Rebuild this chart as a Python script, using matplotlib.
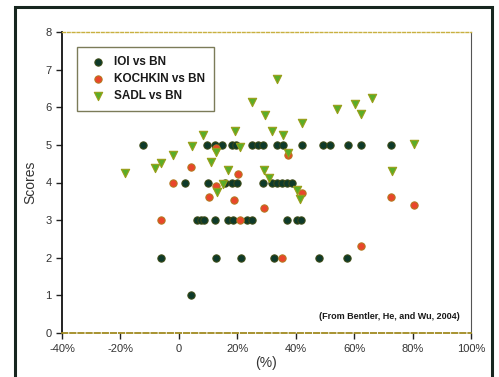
import matplotlib.pyplot as plt
from matplotlib.patches import Rectangle
from matplotlib.ticker import FixedLocator, FixedFormatter

plt.rcParams['font.family'] = ['Liberation Sans', 'DejaVu Sans']

# IOI vs BN
ioi_x = [-12.3, 9.6, 12.3, 14.7, 18.2, 19.5, 25.0, 27.0, 28.8, 33.6, 35.6, 42.0, 49.3, 51.7, 57.9, 62.3, 72.6,
         2.1, 9.9, 15.8, 18.2, 19.9, 28.8, 31.8, 33.6, 35.3, 37.0, 38.7,
         6.2, 7.5, 8.6, 12.3, 16.8, 18.5, 23.3, 25.0, 37.0, 40.4, 41.8,
         -6.2, 12.7, 21.2, 32.5, 47.9, 57.5,
         4.1]
ioi_y = [5] * 17 + [4] * 11 + [3] * 11 + [2] * 6 + [1]

# KOCHKIN vs BN
koch_x = [-6.2, -2.1, 4.1, 10.3, 12.7, 12.7, 18.8, 20.2, 20.9, 29.1, 35.3, 37.3, 42.1, 62.3, 72.6, 80.5]
koch_y = [3.0, 4.0, 4.4, 3.62, 3.9, 4.93, 3.53, 4.23, 3.0, 3.32, 2.0, 4.72, 3.72, 2.31, 3.62, 3.40]

# SADL vs BN
sadl_x = [-18.5, -8.2, -6.0, -2.0, 4.5, 8.2, 11.0, 12.7, 13.0, 15.0, 16.8, 19.2, 20.9, 25.2, 29.3,
          29.5, 31.0, 31.8, 33.6, 35.6, 37.3, 40.4, 41.4, 42.1, 54.0, 60.3, 62.3, 66.1, 72.9, 80.5]
sadl_y = [4.25, 4.39, 4.53, 4.73, 4.98, 5.25, 4.55, 4.82, 3.75, 3.97, 4.32, 5.36, 4.95, 6.15, 4.32,
          5.8, 4.12, 5.38, 6.75, 5.27, 4.78, 3.8, 3.57, 5.58, 5.96, 6.08, 5.82, 6.25, 4.31, 5.03]

x_ticks = [-40, -20, 0, 20, 40, 60, 80, 100]
x_labels = ['-40%', '-20%', '0', '20%', '40%', '60%', '80%', '100%']
y_ticks = [0, 1, 2, 3, 4, 5, 6, 7, 8]

fig = plt.figure(figsize=(4.99, 3.77), dpi=100)
ax = fig.add_axes([62 / 499, 1 - 333 / 377, 409 / 499, 301 / 377])

ax.scatter(ioi_x, ioi_y, s=28, marker='o', color='#0e3a2a', edgecolors='#3d4a14', linewidths=0.7,
           label='IOI vs BN', zorder=3)
ax.scatter(koch_x, koch_y, s=28, marker='o', color='#e9462b', edgecolors='#b07a1c', linewidths=0.7,
           label='KOCHKIN vs BN', zorder=4)
ax.scatter(sadl_x, sadl_y, s=36, marker='v', color='#5aad28', edgecolors='#9a9e18', linewidths=0.8,
           label='SADL vs BN', zorder=5)

ax.set_xlim(-40, 100)
ax.set_ylim(0, 8)
ax.xaxis.set_major_locator(FixedLocator(x_ticks))
ax.xaxis.set_major_formatter(FixedFormatter(x_labels))
ax.set_yticks(y_ticks)
ax.tick_params(axis='both', labelsize=8, labelcolor='#333333', color='#222222', length=4, width=1)
ax.tick_params(axis='x', pad=4)

ax.spines['left'].set_color('#111111')
ax.spines['left'].set_linewidth(1.3)
ax.spines['right'].set_color('#555555')
ax.spines['bottom'].set_color('#a08a20')
ax.spines['bottom'].set_linestyle((0, (3, 1.5)))
ax.spines['bottom'].set_linewidth(1.3)
ax.spines['top'].set_color('#c8b040')
ax.spines['top'].set_linestyle((0, (2, 1.5)))
ax.spines['top'].set_linewidth(1.0)

ax.set_xlabel('(%)', fontsize=10, color='#333333', labelpad=1)
ax.set_ylabel('Scores', fontsize=10, color='#333333', labelpad=6)

leg = ax.legend(loc='upper left', bbox_to_anchor=(15 / 409, 1 - 15 / 301), frameon=True, fancybox=False,
                prop={'weight': 'bold', 'size': 8.5}, handletextpad=0.4, borderpad=0.75,
                labelspacing=0.42, borderaxespad=0)
leg.get_frame().set_edgecolor('#5a5a30')
leg.get_frame().set_linewidth(1.0)
for t in leg.get_texts():
    t.set_color('#1a1a1a')

ax.text(96, 0.45, '(From Bentler, He, and Wu, 2004)', ha='right', va='center', fontsize=6.5,
        fontweight='bold', color='#1a1a1a')

# outer frame around the whole chart
fig.patches.append(Rectangle((15 / 499, -0.05), 477 / 499, 1.05 - 7 / 377, transform=fig.transFigure,
                             fill=False, edgecolor='#17261f', linewidth=2.2))

fig.savefig('out.png', dpi=100)
